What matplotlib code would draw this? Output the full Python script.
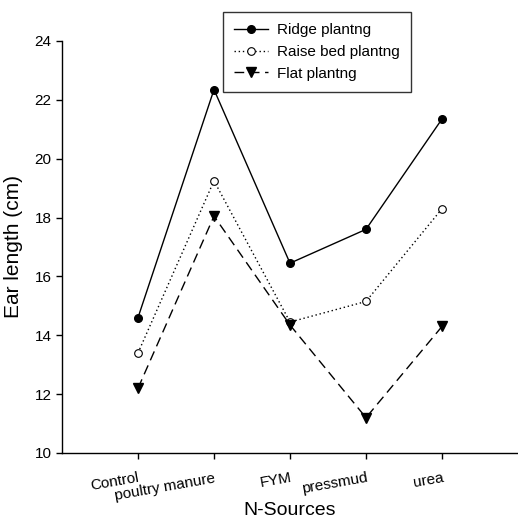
import numpy as np
import matplotlib
matplotlib.use('Agg')
from matplotlib import pyplot as plt

# data
sources = ['Control', 'poultry manure', 'FYM', 'pressmud', 'urea']
ridge = [14.6, 22.35, 16.45, 17.6, 21.35]
raise_bed = [13.4, 19.25, 14.45, 15.15, 18.3]
flat = [12.2, 18.05, 14.35, 11.2, 14.3]
yticks = [10, 12, 14, 16, 18, 20, 22, 24]

plt.rcParams['font.family'] = ['Liberation Sans']

fig = plt.figure(figsize=(5.18, 5.20), dpi=100)
ax = fig.add_axes([62/518, 67/520, 456/518, 412/520])

x = np.arange(1, len(sources) + 1)
ax.plot(x, ridge, color='black', lw=1, ls='-', marker='o', ms=5.5,
        mfc='black', mec='black', label='Ridge plantng')
ax.plot(x, raise_bed, color='black', lw=1, ls=(0, (1, 2)), marker='o', ms=5.5,
        mfc='white', mec='black', mew=0.8, label='Raise bed plantng')
ax.plot(x, flat, color='black', lw=1, ls=(0, (7, 4)), marker='v', ms=6.5,
        mfc='black', mec='black', label='Flat plantng')

ax.set_xlim(0, 6)
ax.set_ylim(10, 24)
ax.set_yticks(yticks)
ax.set_xticks(x)
ax.set_xticklabels(sources, rotation=10, ha='right', rotation_mode='anchor')
ax.tick_params(direction='out', length=4, width=1, labelsize=11, colors='black')
ax.tick_params(axis='x', pad=9)
for s in ['top', 'right']:
    ax.spines[s].set_visible(False)
for s in ['left', 'bottom']:
    ax.spines[s].set_linewidth(1)

ax.set_ylabel('Ear length (cm)', fontsize=15, labelpad=8)
ax.set_xlabel('N-Sources', fontsize=14)
ax.xaxis.set_label_coords(0.5, -0.118)

leg = fig.legend(loc='upper left', bbox_to_anchor=(223/518, 1 - 12/520),
                 fontsize=11, frameon=True, fancybox=False, edgecolor='black',
                 handlelength=2.2, borderpad=0.75, labelspacing=0.5,
                 handletextpad=0.6, borderaxespad=0)
leg.get_frame().set_linewidth(1)

fig.savefig('out.png', dpi=100)
